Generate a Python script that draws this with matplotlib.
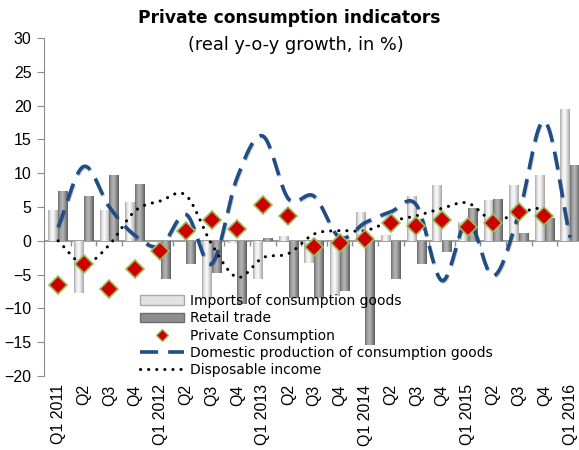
import numpy as np
import matplotlib
matplotlib.use("Agg")
import matplotlib.pyplot as plt
from matplotlib.colors import LinearSegmentedColormap
from matplotlib.patches import Patch
from matplotlib.lines import Line2D
import matplotlib.patheffects as pe

quarters = ["Q1 2011", "Q2", "Q3", "Q4", "Q1 2012", "Q2", "Q3", "Q4",
            "Q1 2013", "Q2", "Q3", "Q4", "Q1 2014", "Q2", "Q3", "Q4",
            "Q1 2015", "Q2", "Q3", "Q4", "Q1 2016"]

imports = [4.5, -7.7, 4.5, 5.8, 0.0, 0.0, -8.4, -0.3, -5.6, 0.7, -3.3,
           -8.1, 4.2, 0.8, 6.6, 8.3, 2.8, 6.1, 8.3, 9.8, 19.5]
retail = [7.4, 6.7, 9.8, 8.4, -5.7, -3.4, -4.8, -9.4, 0.4, -8.4, -8.4,
          -7.5, -15.4, -5.7, -3.5, -1.6, 4.9, 6.2, 1.1, 3.4, 11.2]
private_cons = [-6.6, -3.5, -7.1, -4.1, -1.5, 1.5, 3.1, 1.7, 5.3, 3.7,
                -0.9, -0.3, 0.3, 2.7, 2.2, 3.1, 2.1, 2.7, 4.2, 3.7, np.nan]
domestic_prod = [2.0, 11.0, 5.0, 0.8, -0.8, 3.9, -3.4, 9.4, 15.5, 6.2,
                 6.6, 0.5, 2.7, 4.3, 5.3, -5.9, 3.0, -5.2, 4.0, 17.7, 0.5]
disp_income = [0.0, -3.4, -0.6, 4.4, 5.9, 6.7, -0.5, -5.4, -2.5, -1.9,
               1.0, 1.5, 1.5, 2.9, 3.7, 4.8, 5.6, 3.0, 4.2, 5.0]


def smooth(xs, ys, n=20):
    # Catmull-Rom curve through the points, like a spreadsheet "smoothed line"
    xs = np.asarray(xs, float)
    ys = np.asarray(ys, float)
    px = np.concatenate([[2 * xs[0] - xs[1]], xs, [2 * xs[-1] - xs[-2]]])
    py = np.concatenate([[2 * ys[0] - ys[1]], ys, [2 * ys[-1] - ys[-2]]])
    t = np.linspace(0, 1, n, endpoint=False)
    outx, outy = [], []
    for i in range(1, len(px) - 2):
        for p, out in ((px, outx), (py, outy)):
            p0, p1, p2, p3 = p[i - 1], p[i], p[i + 1], p[i + 2]
            out.extend(0.5 * (2 * p1 + (-p0 + p2) * t
                              + (2 * p0 - 5 * p1 + 4 * p2 - p3) * t ** 2
                              + (-p0 + 3 * p1 - 3 * p2 + p3) * t ** 3))
    outx.append(xs[-1])
    outy.append(ys[-1])
    return np.array(outx), np.array(outy)


light_cm = LinearSegmentedColormap.from_list(
    "light", ["#a9a9a9", "#e9e9e9", "#fafafa", "#d4d4d4", "#a4a4a4"])
dark_cm = LinearSegmentedColormap.from_list(
    "dark", ["#6e6e6e", "#a4a4a4", "#b4b4b4", "#8a8a8a", "#5e5e5e"])
grad = np.linspace(0, 1, 64).reshape(1, -1)

fig = plt.figure(figsize=(5.79, 4.5), dpi=100)
ax = fig.add_axes([44 / 579, 1 - 376 / 450, 1 - 44 / 579, 338 / 450])

x = np.arange(len(quarters))
bw = 0.37


def cylinder_bars(xpos, vals, cmap):
    bars = ax.bar(xpos, vals, bw, facecolor="none", edgecolor="none", zorder=2)
    for b in bars:
        x0, y0 = b.get_x(), b.get_y()
        w, h = b.get_width(), b.get_height()
        if h == 0:
            continue
        im = ax.imshow(grad, cmap=cmap, aspect="auto", zorder=2,
                       extent=[x0, x0 + w, min(y0, y0 + h), max(y0, y0 + h)])
        im.set_clip_path(b)


cylinder_bars(x - 0.19, imports, light_cm)
cylinder_bars(x + 0.19, retail, dark_cm)

ax.axhline(0, color="#8c8c8c", lw=1.2, zorder=1.5)
ax.vlines(x[:-1] + 0.5, -0.75, 0, color="#8c8c8c", lw=1, zorder=1.5)

sx, sy = smooth(x, domestic_prod)
ax.plot(sx, sy, color="#1f4e86", lw=2.6, dashes=(5, 2.8), zorder=4,
        dash_capstyle="butt",
        path_effects=[pe.SimpleLineShadow(offset=(0.5, -0.8), shadow_color="#555555", alpha=0.35),
                      pe.Normal()])

dx, dy = smooth(x[:len(disp_income)], disp_income)
ax.plot(dx, dy, color="black", lw=2.2, linestyle=(0, (0.05, 2.6)),
        dash_capstyle="round", zorder=4)

ax.plot(x, private_cons, linestyle="none", marker="D", markersize=9.5,
        markerfacecolor="#cc0000", markeredgecolor="#9bbb59",
        markeredgewidth=1.2, zorder=5)

ax.set_xlim(-0.55, 20.35)
ax.set_ylim(-20, 30)
ax.set_yticks(np.arange(-20, 31, 5))
ax.set_xticks(x)
ax.set_xticklabels(quarters, rotation=90, va="top", ha="center")
ax.tick_params(axis="x", length=0, pad=6, labelsize=11.5)
ax.tick_params(axis="y", direction="out", length=5, color="#8c8c8c",
               labelsize=11.5, pad=4)
for lab in ax.get_xticklabels() + ax.get_yticklabels():
    lab.set_family("Liberation Sans")
for side in ("top", "right", "bottom"):
    ax.spines[side].set_visible(False)
ax.spines["left"].set_color("#8c8c8c")

fig.text(289 / 579, 1 - 18 / 450, "Private consumption indicators",
         ha="center", va="center", fontsize=12.3, fontweight="bold")
fig.text(296 / 579, 1 - 45 / 450, "(real y-o-y growth, in %)",
         ha="center", va="center", fontsize=12.8)

handles = [
    Patch(facecolor="#e2e2e2", edgecolor="#a8a8a8"),
    Patch(facecolor="#8e8e8e", edgecolor="#6e6e6e"),
    Line2D([], [], linestyle="none", marker="D", markersize=6,
           markerfacecolor="#cc0000", markeredgecolor="#9bbb59"),
    Line2D([], [], color="#1f4e86", lw=2.6, dashes=(5, 2.8)),
    Line2D([], [], color="black", lw=2.2, linestyle=(0, (0.05, 2.6)),
           dash_capstyle="round"),
]
labels = ["Imports of consumption goods", "Retail trade", "Private Consumption",
          "Domestic production of consumption goods", "Disposable income"]
fig.legend(handles, labels, loc="upper left",
           bbox_to_anchor=(140 / 579, 1 - 294 / 450), frameon=False,
           fontsize=10, handlelength=3.2, handletextpad=0.4,
           labelspacing=0.24, borderpad=0, borderaxespad=0)

fig.savefig("out.png", dpi=100)
